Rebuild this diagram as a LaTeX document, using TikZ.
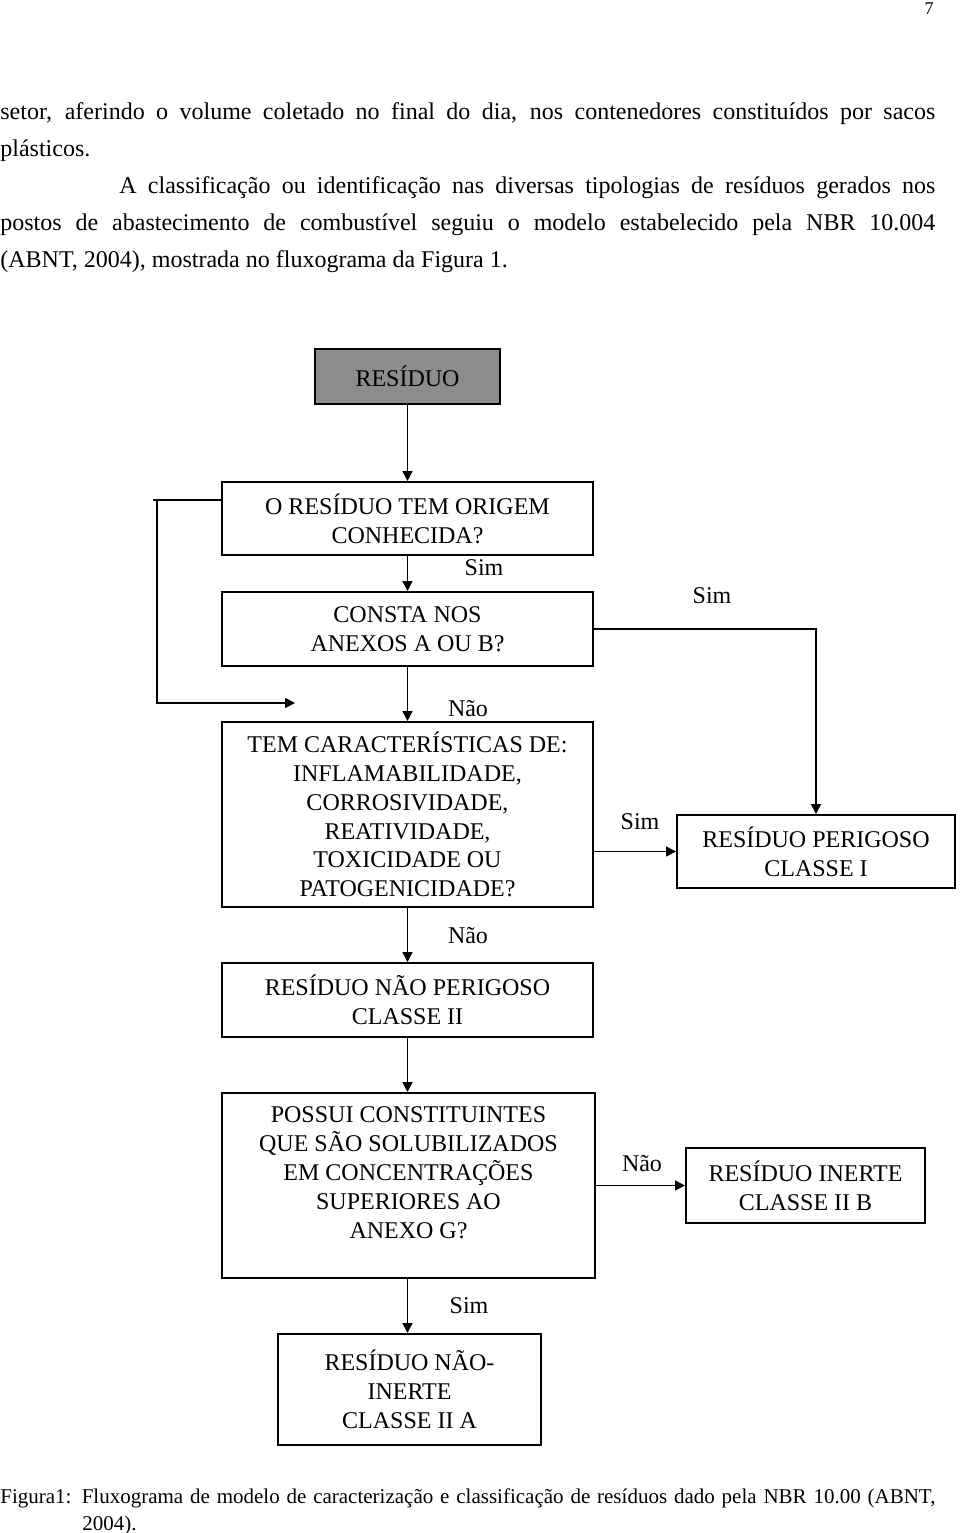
\documentclass[tikz,border=0pt]{standalone}
\usepackage{fontspec}
\setmainfont{Liberation Serif}
\usetikzlibrary{arrows.meta,positioning}
\tikzset{>={Triangle[length=5pt,width=5pt]}}
\definecolor{resgray}{gray}{0.55}

\begin{document}
\begin{tikzpicture}[x=0.5pt,y=-0.5pt,
  every node/.style={font=\fontsize{12}{14.4}\selectfont},
  boxq/.style={draw,line width=1pt,align=center,inner sep=2pt,minimum width=185.5pt,minimum height=36.5pt},
  lbl/.style={inner sep=0pt},
  conn/.style={line width=0.8pt}]
\useasboundingbox (0,0) rectangle (960,1533);
% page text
\node[anchor=base east,inner sep=0pt,font=\fontsize{9}{11}\selectfont] (pg) at (934,14) {7};
\node[anchor=base west,inner sep=0pt,text width=467.5pt,align=justify,
  font=\fontsize{12}{18.6}\selectfont] (par) at (0,119)
  {setor, aferindo o volume coletado no final do dia, nos contenedores constituídos por sacos\linebreak
   plásticos.\par
   \hspace*{59.5pt}A classificação ou identificação nas diversas tipologias de resíduos gerados nos\linebreak
   postos de abastecimento de combustível seguiu o modelo estabelecido pela NBR 10.004\linebreak
   (ABNT, 2004), mostrada no fluxograma da Figura 1.};
% flowchart
\node[boxq,fill=resgray,minimum width=92.5pt,minimum height=27.5pt] (res) at (407.5,376.5) {RESÍDUO};
\node[boxq] (q1) at (407.5,518.5) {O RESÍDUO TEM ORIGEM\\CONHECIDA?};
\node[boxq,minimum height=37pt] (q2) at (407.5,629) {CONSTA NOS\\ANEXOS A OU B?};
\node[boxq,minimum height=92.5pt] (q3) at (407.5,814.5) {TEM CARACTERÍSTICAS DE:\\INFLAMABILIDADE,\\CORROSIVIDADE,\\REATIVIDADE,\\TOXICIDADE OU\\PATOGENICIDADE?};
\node[boxq,minimum width=139pt] (per) at (816,851.5) {RESÍDUO PERIGOSO\\CLASSE I};
\node[boxq,minimum height=37pt] (nper) at (407.5,1000) {RESÍDUO NÃO PERIGOSO\\CLASSE II};
\node[boxq,minimum width=186.5pt,minimum height=92.5pt,text depth=13pt] (q6) at (408.5,1185.5) {POSSUI CONSTITUINTES\\QUE SÃO SOLUBILIZADOS\\EM CONCENTRAÇÕES\\SUPERIORES AO\\ANEXO G?};
\node[boxq,minimum width=119.5pt,minimum height=37.5pt] (inerte) at (805.5,1185.5) {RESÍDUO INERTE\\CLASSE II B};
\node[boxq,minimum width=131.5pt,minimum height=55.5pt] (ninerte) at (409.5,1389.5) {RESÍDUO NÃO-\\INERTE\\CLASSE II A};
% labels
\node[lbl] (s1) at (484,568) {Sim};
\node[lbl] (s2) at (712,596) {Sim};
\node[lbl] (n1) at (468,709) {Não};
\node[lbl] (s3) at (640,822) {Sim};
\node[lbl] (n2) at (468,936) {Não};
\node[lbl] (n3) at (642,1164) {Não};
\node[lbl] (s4) at (469,1306) {Sim};
% connectors
\coordinate (lpa) at (153,500);
\coordinate (lpc) at (157,500);
\coordinate (lpend) at (295,703);
\draw[conn,->] (res) -- (q1);
\draw[conn,->] (q1) -- (q2);
\draw[conn,->] (q2) -- (q3);
\draw[conn,->] (q2.east) -| (per.north);
\draw[conn,->] (q3.east |- per.west) -- (per.west);
\draw[conn,->] (q3) -- (nper);
\draw[conn,->] (nper) -- (nper.south |- q6.north);
\draw[conn,->] (q6.east) -- (inerte.west);
\draw[conn,->] (nper.south |- q6.south) -- (nper.south |- ninerte.north);
\draw[conn] (lpa) -- (lpa -| q1.west);
\draw[conn,->] (lpc) |- (lpend);
% caption
\node[anchor=base west,inner sep=0pt,text width=467.5pt,align=justify,
  font=\fontsize{10.5}{13.5}\selectfont] (cap) at (0,1503)
  {\hangindent=41pt\hangafter=1 Figura1: Fluxograma de modelo de caracterização e classificação de resíduos dado pela NBR 10.00 (ABNT,\linebreak 2004).\par};
\end{tikzpicture}
\end{document}
